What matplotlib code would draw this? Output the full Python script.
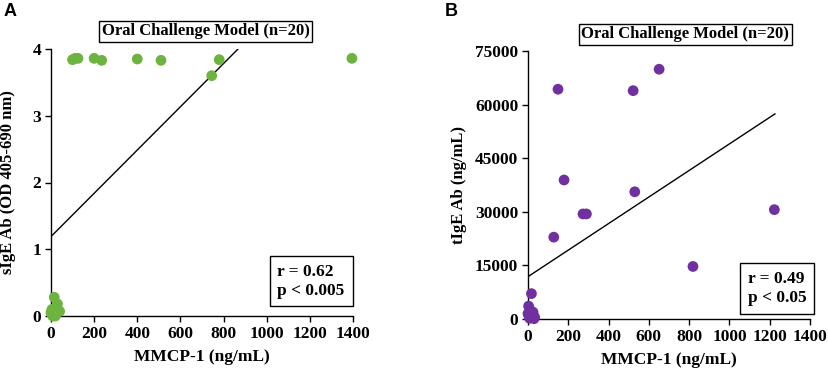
import matplotlib
matplotlib.use("Agg")
import matplotlib.pyplot as plt
import numpy as np

# panel A: sIgE vs MMCP-1
mmcp_a = [100, 112, 125, 200, 235, 400, 510, 780, 745, 1395,
          15, 30, 5, 40, 10, 0, 20, 25, 8, 3]
sige_a = [3.84, 3.86, 3.86, 3.86, 3.83, 3.85, 3.83, 3.84, 3.60, 3.86,
          0.28, 0.18, 0.10, 0.07, 0.02, 0.05, 0.00, 0.10, 0.00, 0.08]
fit_a = [0, 867]
fit_a_y = [1.19, 4.0]

# panel B: tIgE vs MMCP-1
mmcp_b = [149, 522, 651, 179, 530, 273, 290, 128, 1223, 819, 17, 3,
          0, 17, 33, 8, 25, 12, 30, 5]
tige_b = [64300, 63900, 69900, 38900, 35600, 29400, 29400, 22900, 30600, 14700, 7100, 3600,
          1500, 1000, 500, 200, 1900, 2400, 100, 800]
fit_b = [0, 1226]
fit_b_y = [11850, 57400]

plt.rcParams['font.family'] = ['Liberation Serif', 'DejaVu Serif']
plt.rcParams['font.weight'] = 'bold'

fig = plt.figure(figsize=(8.29, 3.73), dpi=100)
axA = fig.add_axes([51/829, 57/373, 302/829, 267/373])
axB = fig.add_axes([528/829, 54/373, 282/829, 268/373])

def style(ax):
    for s in ['top', 'right']:
        ax.spines[s].set_visible(False)
    for s in ['left', 'bottom']:
        ax.spines[s].set_linewidth(1.0)
    ax.tick_params(direction='out', length=4, width=1, labelsize=12.5, pad=3)
    for lab in ax.get_xticklabels() + ax.get_yticklabels():
        lab.set_fontweight('bold')

# A
axA.plot(fit_a, fit_a_y, color='black', lw=1.0, zorder=2)
axA.scatter(mmcp_a, sige_a, s=60, color='#6db33f', edgecolors='none', zorder=3, clip_on=False)
axA.set_xlim(0, 1400)
axA.set_ylim(0, 4)
axA.set_xticks(range(0, 1401, 200))
axA.set_yticks([0, 1, 2, 3, 4])
style(axA)
axA.set_xlabel('MMCP-1 (ng/mL)', fontsize=12.5, fontweight='bold', labelpad=5)
axA.set_ylabel('sIgE Ab (OD 405-690 nm)', fontsize=12, fontweight='bold', labelpad=12)
axA.text(0.513, 1.067, 'Oral Challenge Model (n=20)', transform=axA.transAxes, ha='center', va='center',
         fontsize=12, fontweight='bold',
         bbox=dict(boxstyle='square,pad=0.15', fc='white', ec='black', lw=1.0))
axA.text(0.75, 0.131, 'r = 0.62\np < 0.005', transform=axA.transAxes, ha='left', va='center',
         fontsize=12.5, fontweight='bold', linespacing=1.25,
         bbox=dict(boxstyle='square,pad=0.45', fc='white', ec='black', lw=1.0))
fig.text(4/829, 1 - 11/373, 'A', fontsize=13, fontweight='bold', family='Liberation Sans', va='center')

# B
axB.plot(fit_b, fit_b_y, color='black', lw=1.0, zorder=2)
axB.scatter(mmcp_b, tige_b, s=60, color='#7030a0', edgecolors='none', zorder=3, clip_on=False)
axB.set_xlim(0, 1400)
axB.set_ylim(0, 75000)
axB.set_xticks(range(0, 1401, 200))
axB.set_yticks(range(0, 75001, 15000))
style(axB)
axB.set_xlabel('MMCP-1 (ng/mL)', fontsize=12.5, fontweight='bold', labelpad=5)
axB.set_ylabel('tIgE Ab (ng/mL)', fontsize=12, fontweight='bold', labelpad=6)
axB.text(0.557, 1.062, 'Oral Challenge Model (n=20)', transform=axB.transAxes, ha='center', va='center',
         fontsize=12, fontweight='bold',
         bbox=dict(boxstyle='square,pad=0.15', fc='white', ec='black', lw=1.0))
axB.text(0.78, 0.114, 'r = 0.49\np < 0.05', transform=axB.transAxes, ha='left', va='center',
         fontsize=12.5, fontweight='bold', linespacing=1.25,
         bbox=dict(boxstyle='square,pad=0.45', fc='white', ec='black', lw=1.0))
fig.text(445/829, 1 - 11/373, 'B', fontsize=13, fontweight='bold', family='Liberation Sans', va='center')

fig.savefig('out.png', dpi=100)
